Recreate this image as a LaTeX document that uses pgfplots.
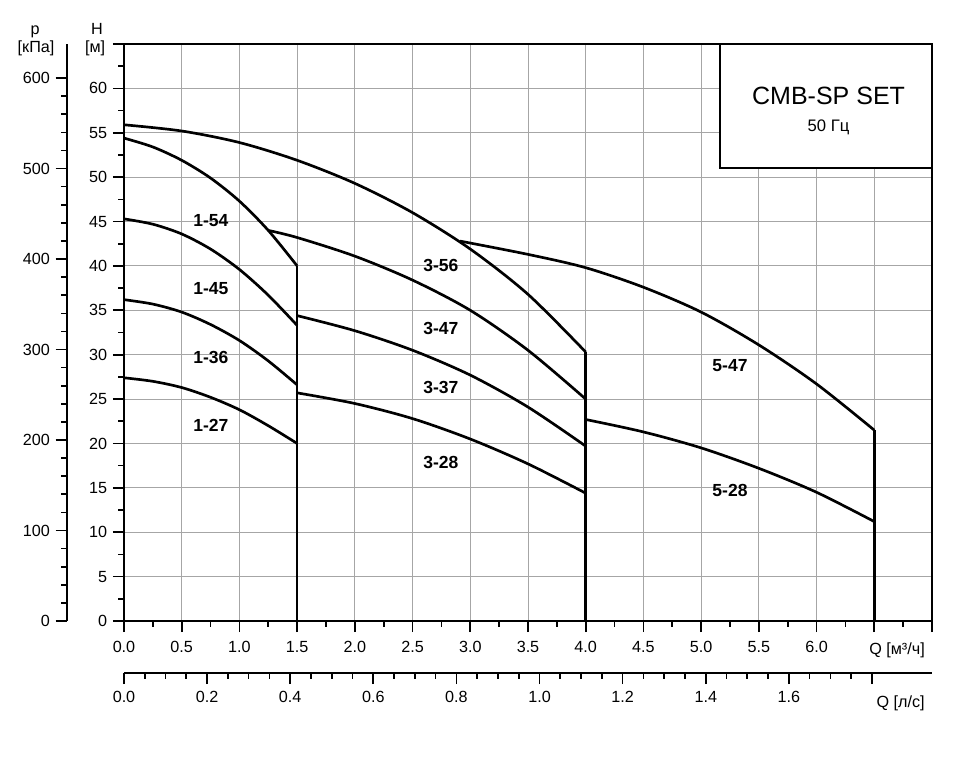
\documentclass[border=0pt]{standalone}
\usepackage{fontspec}
\setmainfont{Liberation Sans}
\usepackage{pgfplots}
\pgfplotsset{compat=1.18}
\pgfplotsset{
  base/.style={scale only axis, width=484.8pt, height=346.2pt, tick align=outside,
    major tick length=6.6pt, minor tick length=3.3pt,
    every tick/.style={black, line width=1pt},
    axis line style={line width=1.2pt, black},
    tick label style={font=\fontsize{9.7}{11}\selectfont},
    /pgf/number format/assume math mode=true},
  curve/.style={black, line width=1.6pt, smooth, no marks, line join=round},
}
\begin{document}
\begin{tikzpicture}
% pressure axis
\begin{axis}[base, xshift=-34.4pt, xmin=0, xmax=1, ymin=0, ymax=637.65,
  hide x axis, axis y line*=left,
  ytick={0,100,200,300,400,500,600}, minor y tick num=4]
\addplot[draw=none] coordinates {(0,0)};
\end{axis}
% flow l/s axis
\begin{axis}[base, yshift=-31.4pt, xmin=0, xmax=1.944444, ymin=0, ymax=1,
  hide y axis, axis x line*=bottom, major tick length=6.4pt,
  xtick={0,0.2,0.4,0.6,0.8,1.0,1.2,1.4,1.6,1.8},
  xticklabels={0.0,0.2,0.4,0.6,0.8,1.0,1.2,1.4,1.6,{}},
  minor x tick num=3, xticklabel style={yshift=-1pt}]
\addplot[draw=none] coordinates {(0,0)};
\end{axis}
% main axis
\begin{axis}[base, xmin=0, xmax=7, ymin=0, ymax=65,
  xtick pos=bottom, ytick pos=left,
  xtick={0,0.5,1,1.5,2,2.5,3,3.5,4,4.5,5,5.5,6,6.5,7},
  xticklabels={0.0,0.5,1.0,1.5,2.0,2.5,3.0,3.5,4.0,4.5,5.0,5.5,6.0,{},{}},
  ytick={0,5,10,15,20,25,30,35,40,45,50,55,60,65},
  yticklabels={0,5,10,15,20,25,30,35,40,45,50,55,60,{}},
  minor x tick num=1, minor y tick num=1,
  grid=major, major grid style={draw=gray!70, line width=0.6pt},
  clip=false, xticklabel style={yshift=-2pt}]
% 1-series
\addplot[curve] coordinates {(0,27.4)(0.25,27.0)(0.5,26.3)(0.75,25.2)(1.0,23.8)(1.25,22.0)(1.5,20.0)};
\addplot[curve] coordinates {(0,36.2)(0.25,35.7)(0.5,34.8)(0.75,33.4)(1.0,31.6)(1.25,29.3)(1.5,26.6)};
\addplot[curve] coordinates {(0,45.3)(0.25,44.7)(0.5,43.6)(0.75,41.9)(1.0,39.6)(1.25,36.7)(1.5,33.3)};
\addplot[curve] coordinates {(0,54.4)(0.25,53.4)(0.5,51.9)(0.75,49.9)(1.0,47.3)(1.25,44.0)(1.5,40.0)};
% 3-series
\addplot[curve] coordinates {(0,55.9)(0.5,55.2)(1.0,53.9)(1.5,51.9)(2.0,49.3)(2.5,46.0)(3.0,41.9)(3.5,36.8)(4.0,30.3)};
\addplot[curve] coordinates {(1.25,44.0)(1.5,43.2)(2.0,41.1)(2.5,38.4)(3.0,35.0)(3.5,30.5)(4.0,25.0)};
\addplot[curve] coordinates {(1.5,34.4)(2.0,32.7)(2.5,30.5)(3.0,27.7)(3.5,24.1)(4.0,19.7)};
\addplot[curve] coordinates {(1.5,25.7)(2.0,24.5)(2.5,22.8)(3.0,20.5)(3.5,17.7)(4.0,14.4)};
% 5-series
\addplot[curve] coordinates {(2.91,42.8)(3.5,41.3)(4.0,39.8)(4.5,37.6)(5.0,34.8)(5.5,31.1)(6.0,26.7)(6.5,21.5)};
\addplot[curve] coordinates {(4.0,22.7)(4.5,21.3)(5.0,19.5)(5.5,17.2)(6.0,14.5)(6.5,11.2)};
% drop lines
\addplot[black, line width=1.6pt, sharp plot, no marks] coordinates {(1.5,40.0)(1.5,0)};
\addplot[black, line width=1.6pt, sharp plot, no marks] coordinates {(4.0,30.3)(4.0,0)};
\addplot[black, line width=1.6pt, sharp plot, no marks] coordinates {(6.5,21.5)(6.5,0)};
% title box
\draw[line width=1.2pt, fill=white] (axis cs:5.165,51.05) rectangle (axis cs:7,65);
\node[font=\fontsize{15}{17}\selectfont] at (axis cs:6.104,59.1) {CMB-SP SET};
\node[font=\fontsize{10}{12}\selectfont] at (axis cs:6.104,55.6) {50 Гц};
% curve labels
\begin{scope}[every node/.style={font=\bfseries\fontsize{10.5}{12}\selectfont}]
\node at (axis cs:0.753,45.1) {1-54};
\node at (axis cs:0.753,37.4) {1-45};
\node at (axis cs:0.753,29.7) {1-36};
\node at (axis cs:0.753,22.0) {1-27};
\node at (axis cs:2.745,40.0) {3-56};
\node at (axis cs:2.745,32.9) {3-47};
\node at (axis cs:2.745,26.3) {3-37};
\node at (axis cs:2.745,17.9) {3-28};
\node at (axis cs:5.25,28.8) {5-47};
\node at (axis cs:5.25,14.7) {5-28};
\end{scope}
% axis titles
\begin{scope}[every node/.style={font=\fontsize{9.7}{11}\selectfont, inner sep=0pt}]
\node[anchor=base east] at (axis cs:6.94,-3.72) {Q [м³/ч]};
\node[anchor=base east] at (axis cs:6.94,-9.73) {Q [л/с]};
\node[anchor=base] at (axis cs:-0.234,66.09) {H};
\node[anchor=base] at (axis cs:-0.25,64.0) {[м]};
\node[anchor=base] at (axis cs:-0.771,66.09) {p};
\node[anchor=base] at (axis cs:-0.762,64.0) {[кПа]};
\end{scope}
\end{axis}
\pgfresetboundingbox
\path (-74.4pt,-93.6pt) rectangle (511.8pt,372.6pt);
\end{tikzpicture}
\end{document}
